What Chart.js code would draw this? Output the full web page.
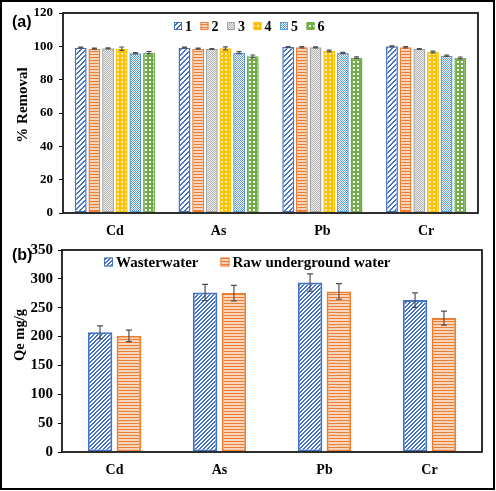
<!DOCTYPE html>
<html>
<head>
<meta charset="utf-8">
<script src="https://cdn.jsdelivr.net/npm/chart.js@4.4.1/dist/chart.umd.min.js"></script>
<style>
  html, body { margin: 0; padding: 0; background: #fff; }
  #wrap { position: relative; width: 496px; height: 491px; overflow: hidden; }
  #frame { position: absolute; left: 0; top: 0; width: 491px; height: 486px; border: 2.5px solid #000; }
  #ca { position: absolute; left: 0; top: 0; }
  #cb { position: absolute; left: 0; top: 240px; }
  .tag { position: absolute; font-family: "Liberation Sans", Arial, sans-serif; font-weight: bold; font-size: 16px; }
  .ytitle { position: absolute; transform: translate(-50%, -50%) rotate(-90deg); white-space: nowrap;
            font-family: "Liberation Serif", "Times New Roman", serif; font-weight: bold; }
</style>
</head>
<body>
<div id="wrap">
  <canvas id="ca" width="496" height="240"></canvas>
  <canvas id="cb" width="496" height="251"></canvas>
  <div class="tag" style="left:12px;top:13px">(a)</div>
  <div class="tag" style="left:12px;top:246px">(b)</div>
  <div class="ytitle" style="left:22px;top:105px;font-size:15px">% Removal</div>
  <div class="ytitle" style="left:19px;top:335px;font-size:14.5px">Qe mg/g</div>
  <div id="frame"></div>
</div>
<script>
  // panel (a): % removal for runs 1-6
  const metals = ['Cd', 'As', 'Pb', 'Cr'];
  const runLabels = ['1', '2', '3', '4', '5', '6'];
  const run1 = [99.2, 99.2, 99.6, 100.0];
  const run2 = [98.6, 98.6, 99.4, 99.4];
  const run3 = [98.8, 98.4, 99.4, 98.4];
  const run4 = [98.6, 98.8, 97.2, 96.6];
  const run5 = [95.8, 96.2, 96.0, 94.4];
  const run6 = [96.2, 94.0, 93.2, 93.0];
  const run1Err = [0.3, 0.3, 0.3, 0.3];
  const run2Err = [0.3, 0.3, 0.4, 0.4];
  const run3Err = [0.3, 0.3, 0.3, 0.3];
  const run4Err = [1.0, 0.9, 0.5, 0.5];
  const run5Err = [0.4, 0.6, 0.4, 0.4];
  const run6Err = [0.7, 0.8, 0.5, 0.6];
  const removalTicks = [0, 20, 40, 60, 80, 100, 120];

  // panel (b): adsorption capacity
  const waterLabels = ['Wasterwater', 'Raw underground water'];
  const qeWaste = [207.6, 276.5, 293.8, 263.2];
  const qeRaw = [201.3, 275.3, 278.2, 232.0];
  const qeWasteErr = [11, 14, 15, 12.5];
  const qeRawErr = [10, 13.5, 13.5, 12];
  const qeTicks = [0, 50, 100, 150, 200, 250, 300, 350];

  function makePattern(w, h, paint) {
    const c = document.createElement('canvas');
    c.width = w; c.height = h;
    const g = c.getContext('2d');
    paint(g, w, h);
    return g.createPattern(c, 'repeat');
  }
  function px(g, x, y, col) { g.fillStyle = col; g.fillRect(x, y, 1, 1); }

  const diagPattern = (col, n) => makePattern(n, n, (g, w, h) => {
    g.fillStyle = '#fff'; g.fillRect(0, 0, w, h);
    for (let i = 0; i < n; i++) {
      px(g, i, n - 1 - i, col);
      px(g, i, (n - i) % n, col);
    }
  });
  const hLines = (col, light) => makePattern(4, 3, (g) => {
    g.fillStyle = light; g.fillRect(0, 0, 4, 3);
    g.fillStyle = col; g.fillRect(0, 0, 4, 1);
  });
  const checker = (a, b) => makePattern(2, 2, (g) => {
    px(g, 0, 0, a); px(g, 1, 1, a); px(g, 1, 0, b); px(g, 0, 1, b);
  });
  const grid = (col, light) => makePattern(4, 4, (g) => {
    g.fillStyle = col; g.fillRect(0, 0, 4, 4);
    g.fillStyle = light; g.fillRect(1, 1, 2, 2);
  });

  const blue = '#4472C4', orange = '#ED7D31', gray = '#A5A5A5',
        yellow = '#FFC000', lblue = '#5B9BD5', green = '#70AD47';

  const boxPlugin = {
    id: 'boxPlugin',
    afterDatasetsDraw(chart) {
      const { ctx, chartArea: a } = chart;
      ctx.save();
      ctx.strokeStyle = '#1a1a1a';
      ctx.lineWidth = 1.8;
      ctx.strokeRect(a.left, a.top, a.right - a.left, a.bottom - a.top);
      ctx.restore();
    }
  };

  const errorBars = {
    id: 'errorBars',
    afterDatasetsDraw(chart, args, opts) {
      const ctx = chart.ctx, y = chart.scales.y;
      ctx.save();
      ctx.strokeStyle = '#505050';
      ctx.lineWidth = 1.2;
      chart.data.datasets.forEach((ds, i) => {
        chart.getDatasetMeta(i).data.forEach((bar, j) => {
          const v = ds.data[j], e = ds.errors[j];
          const t = y.getPixelForValue(v + e), b = y.getPixelForValue(v - e);
          ctx.beginPath();
          ctx.moveTo(bar.x, t); ctx.lineTo(bar.x, b);
          ctx.moveTo(bar.x - opts.cap, t); ctx.lineTo(bar.x + opts.cap, t);
          ctx.moveTo(bar.x - opts.cap, b); ctx.lineTo(bar.x + opts.cap, b);
          ctx.stroke();
        });
      });
      ctx.restore();
    }
  };

  const innerLegend = {
    id: 'innerLegend',
    afterDraw(chart, args, o) {
      const ctx = chart.ctx;
      let x = o.x;
      ctx.save();
      ctx.font = o.font;
      ctx.textBaseline = 'middle';
      chart.data.datasets.forEach(ds => {
        ctx.fillStyle = ds.backgroundColor;
        ctx.fillRect(x, o.y - o.box / 2, o.box, o.box);
        ctx.strokeStyle = ds.borderColor;
        ctx.lineWidth = 1;
        ctx.strokeRect(x + 0.5, o.y - o.box / 2 + 0.5, o.box - 1, o.box - 1);
        ctx.fillStyle = '#000';
        ctx.fillText(ds.label, x + o.box + o.gap, o.y + 1);
        x += o.box + o.gap + ctx.measureText(ds.label).width + o.spacing;
      });
      ctx.restore();
    }
  };

  function axes(yMax, yStep, yTicks, yWidth, xHeight, tickSize, yPad) {
    return {
      x: {
        grid: { display: false, drawTicks: false },
        border: { display: false },
        ticks: { color: '#000', padding: 10, font: { family: 'Liberation Serif', size: 14, weight: 'bold' } },
        afterFit(s) { s.height = xHeight; s.paddingLeft = 0; s.paddingRight = 0; }
      },
      y: {
        min: 0, max: yMax,
        afterBuildTicks(s) { s.ticks = yTicks.map(v => ({ value: v })); },
        grid: { drawOnChartArea: false, drawTicks: true, tickLength: 4, color: '#000' },
        border: { display: false },
        ticks: { color: '#000', padding: yPad, stepSize: yStep, font: { family: 'Liberation Serif', size: tickSize, weight: 'bold' } },
        afterFit(s) { s.width = yWidth; s.paddingTop = 0; s.paddingBottom = 0; }
      }
    };
  }

  const runValues = [run1, run2, run3, run4, run5, run6];
  const runErrors = [run1Err, run2Err, run3Err, run4Err, run5Err, run6Err];
  const runColors = [blue, orange, gray, yellow, lblue, green];
  const runFills = [
    diagPattern(blue, 5),
    hLines(orange, '#F9D5BD'),
    checker('#B4B4B4', '#EDEDED'),
    grid(yellow, '#FFF0C2'),
    checker(lblue, '#FFFFFF'),
    grid(green, '#FFFFFF')
  ];

  new Chart(document.getElementById('ca'), {
    type: 'bar',
    data: {
      labels: metals,
      datasets: runLabels.map((lab, i) => ({
        label: lab,
        data: runValues[i],
        errors: runErrors[i],
        backgroundColor: runFills[i],
        borderColor: runColors[i],
        borderWidth: 1.5,
        borderSkipped: false,
        categoryPercentage: 0.79,
        barPercentage: 0.87
      }))
    },
    options: {
      responsive: false,
      animation: false,
      layout: { padding: { left: 0, right: 18, top: 13, bottom: 0 } },
      scales: axes(120, 20, removalTicks, 63, 27, 13, 6),
      plugins: {
        legend: { display: false },
        tooltip: { enabled: false },
        errorBars: { cap: 2.5 },
        innerLegend: { x: 174, y: 26, box: 8, gap: 3, spacing: 8.5, font: 'bold 14px "Liberation Serif"' }
      }
    },
    plugins: [errorBars, boxPlugin, innerLegend]
  });

  const qeValues = [qeWaste, qeRaw];
  const qeErrors = [qeWasteErr, qeRawErr];
  const qeColors = [blue, orange];
  const qeFills = [diagPattern(blue, 4), hLines(orange, '#F9D5BD')];

  new Chart(document.getElementById('cb'), {
    type: 'bar',
    data: {
      labels: metals,
      datasets: waterLabels.map((lab, i) => ({
        label: lab,
        data: qeValues[i],
        errors: qeErrors[i],
        backgroundColor: qeFills[i],
        borderColor: qeColors[i],
        borderWidth: 2,
        borderSkipped: false,
        categoryPercentage: 0.55,
        barPercentage: 0.85
      }))
    },
    options: {
      responsive: false,
      animation: false,
      layout: { padding: { left: 0, right: 14, top: 10, bottom: 0 } },
      scales: axes(350, 50, qeTicks, 62, 39, 15, 5),
      plugins: {
        legend: { display: false },
        tooltip: { enabled: false },
        errorBars: { cap: 3 },
        innerLegend: { x: 104, y: 22, box: 9, gap: 3, spacing: 22, font: 'bold 15px "Liberation Serif"' }
      }
    },
    plugins: [errorBars, boxPlugin, innerLegend]
  });
</script>
</body>
</html>
